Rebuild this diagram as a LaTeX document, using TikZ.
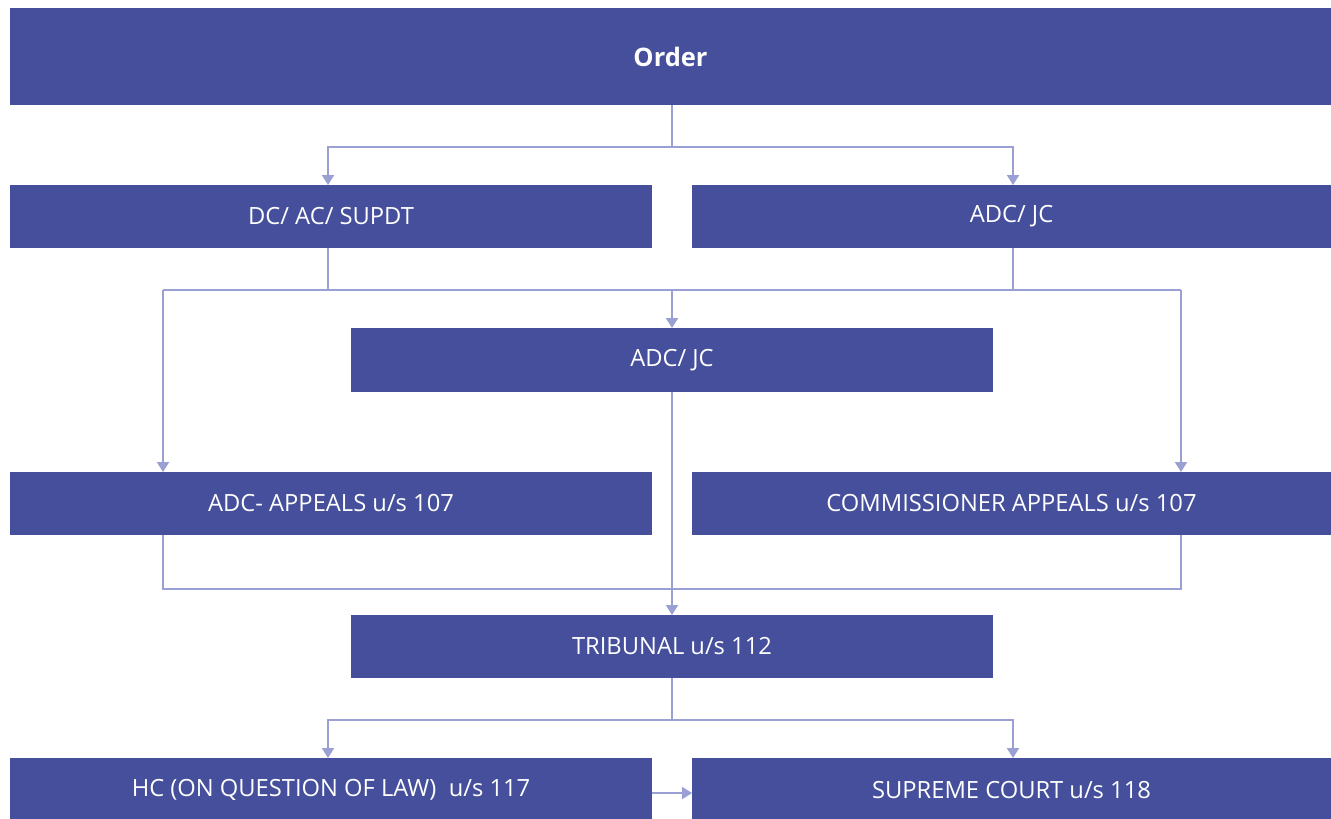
\documentclass[tikz,border=0pt]{standalone}
\usepackage{fontspec}
\setmainfont{Open Sans}
\usetikzlibrary{arrows.meta}
\definecolor{boxblue}{RGB}{69,79,155}
\definecolor{linkblue}{RGB}{154,159,212}
\begin{document}
\begin{tikzpicture}[x=0.02cm, y=-0.02cm,
    box/.style={fill=boxblue, text=white, inner sep=0pt, outer sep=0pt,
        minimum width=12.84cm, minimum height=1.26cm, font=\fontsize{13.5}{16}\selectfont},
    link/.style={draw=linkblue, line width=0.04cm},
    arrow/.style={link, -{Triangle[width=0.24cm,length=0.2cm]}}]
    \fill[white] (0,0) rectangle (1331,818);
    \useasboundingbox (0,0) rectangle (1331,818);
    \node[box, minimum width=26.42cm, minimum height=1.94cm, font=\fontsize{14.5}{17}\selectfont\bfseries] (order) at (670.5,56.5) {Order};
    \node[box] (dc) at (331,216.5) {DC/ AC/ SUPDT};
    \node[box, minimum width=12.78cm] (adcjc) at (1011.5,216.5) {ADC/ JC};
    \node[box, minimum height=1.28cm] (adcmid) at (672,360) {ADC/ JC};
    \node[box] (adcapp) at (331,503.5) {ADC- APPEALS u/s 107};
    \node[box, minimum width=12.78cm] (comm) at (1011.5,503.5) {COMMISSIONER APPEALS u/s 107};
    \node[box] (trib) at (672,646.5) {TRIBUNAL u/s 112};
    \node[box, minimum height=1.28cm] (hc) at (331,790) {HC (ON QUESTION OF LAW)\ \ u/s 117};
    \node[box, minimum width=12.78cm, minimum height=1.28cm] (sc) at (1011.5,790) {SUPREME COURT u/s 118};
    \coordinate (busL) at (163,290);
    \coordinate (busR) at (1181,290);
    \coordinate (lowL) at (163,589);
    \coordinate (lowR) at (1181,589);
    \draw[link] (order.south -| adcmid) -- ++(0,42) coordinate (split);
    \draw[arrow] (split) -| ([xshift=-0.06cm]dc.north);
    \draw[arrow] (split) -| ([xshift=0.03cm]adcjc.north);
    \draw[link] (busL) -- (busR);
    \draw[link] ([xshift=-0.06cm]dc.south) -- ([xshift=-0.06cm]dc.south |- busL);
    \draw[link] ([xshift=0.03cm]adcjc.south) -- ([xshift=0.03cm]adcjc.south |- busR);
    \draw[arrow] (adcmid.north |- busL) -- (adcmid.north);
    \draw[arrow] (busL) -- (busL |- adcapp.north);
    \draw[arrow] (busR) -- (busR |- comm.north);
    \draw[arrow] (adcmid.south) -- (trib.north);
    \draw[link] (busL |- adcapp.south) -- (lowL) -- (lowR) -- (busR |- comm.south);
    \draw[link] (trib.south) -- ++(0,42) coordinate (split2);
    \draw[arrow] (split2) -| ([xshift=-0.06cm]hc.north);
    \draw[arrow] (split2) -| ([xshift=0.03cm]sc.north);
    \draw[arrow] ([yshift=-0.06cm]hc.east) -- ([yshift=-0.06cm]sc.west);
\end{tikzpicture}
\end{document}
